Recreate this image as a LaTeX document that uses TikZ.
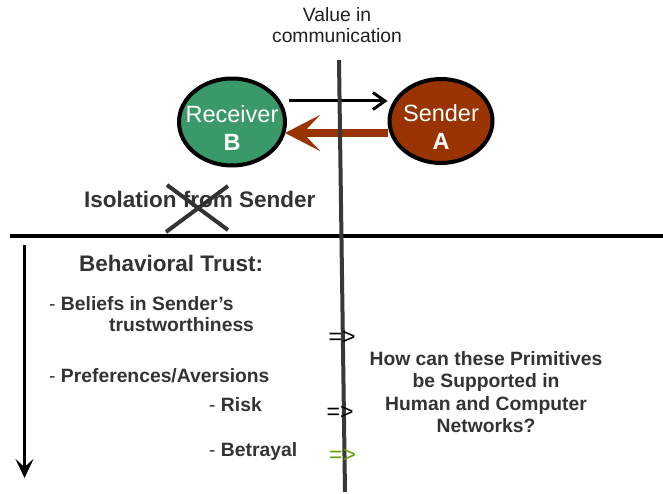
\documentclass[tikz,border=0pt]{standalone}
\usepackage{fontspec}
\setmainfont{Liberation Sans}
\usetikzlibrary{shapes.geometric,arrows.meta}
\definecolor{recgreen}{RGB}{58,153,104}
\definecolor{sndbrown}{RGB}{153,51,0}
\definecolor{txtgray}{RGB}{51,51,51}
\definecolor{implgreen}{RGB}{102,160,0}
\tikzset{
  party/.style={ellipse,draw=black,line width=4pt,inner sep=0pt},
  partytext/.style={text=white,align=center,inner sep=0pt,yshift=-6pt,
    font=\fontsize{23.5}{28}\selectfont},
  head/.style={font=\bfseries\fontsize{22.5}{27}\selectfont,text=txtgray,
    inner sep=0pt,anchor=base west},
  item/.style={font=\bfseries\fontsize{19.3}{22.6}\selectfont,text=txtgray,
    inner sep=0pt,anchor=base west},
  impl/.style={font=\fontsize{23}{26}\selectfont,inner sep=0pt,anchor=base}
}
\begin{document}
\begin{tikzpicture}[x=1pt,y=-1pt]
    \useasboundingbox (0,0) rectangle (663,494);
    \node[align=center,inner sep=0pt,text=black!88,
      font=\fontsize{19.3}{21.7}\selectfont] (val) at (337,25) {Value in\\communication};
    \node[party,fill=recgreen,minimum width=106pt,minimum height=87pt,
      label={[partytext]center:{Receiver\\\textbf{B}}}] (rec) at (232,122) {};
    \node[party,fill=sndbrown,minimum width=103pt,minimum height=84pt,
      label={[partytext]center:{Sender\\\textbf{A}}}] (snd) at (441,121) {};
    \draw[line width=3pt,-{Straight Barb[length=12pt,width=17pt]}]
      ([xshift=2pt,yshift=21pt]rec.east) -- ([yshift=20pt]snd.west);
    \draw[sndbrown,line width=8.5pt,-{Stealth[length=35pt,width=36pt,inset=17pt]}]
      ([yshift=-12pt]snd.west) -- ([xshift=-2pt,yshift=-11pt]rec.east);

    \node[head] (iso) at (84,207.3) {Isolation from Sender};
    \coordinate (xa) at (167,185); \coordinate (xb) at (228,230);
    \coordinate (xc) at (228,186); \coordinate (xd) at (166,232);
    \draw[line width=4pt,txtgray] (xa) -- (xb) (xc) -- (xd);

    \coordinate (hl) at (10,236); \coordinate (hr) at (663,236);
    \draw[line width=4pt] (hl) -- (hr);
    \coordinate (dtop) at (24.5,245); \coordinate (dbot) at (24.5,478);
    \draw[line width=3pt,-{Stealth[length=19pt,width=18pt,inset=8pt]}] (dtop) -- (dbot);

    \node[head] (bt) at (79,271.7) {Behavioral Trust:};
    \node[item] (bel) at (49,310.7) {{\mdseries-} Beliefs in Sender’s};
    \node[item] (tru) at (109,331.7) {trustworthiness};
    \node[item] (pref) at (49,382.7) {{\mdseries-} Preferences/Aversions};
    \node[item] (risk) at (209,411.7) {{\mdseries-} Risk};
    \node[item] (betr) at (209,456) {{\mdseries-} Betrayal};
    \node[font=\bfseries\fontsize{19.3}{22.6}\selectfont,text=txtgray,align=center,
      inner sep=0pt] (q) at (486,392) {How can these Primitives\\be Supported in\\Human and Computer\\Networks?};

    \coordinate (vtop) at (339,60); \coordinate (vbot) at (345,492);
    \draw[line width=4pt,black!78] (vtop) -- (vbot);
    \node[impl] (i1) at (342,344) {=>};
    \node[impl] (i2) at (340,419) {=>};
    \node[impl,text=implgreen] (i3) at (342.5,462) {=>};
\end{tikzpicture}
\end{document}
